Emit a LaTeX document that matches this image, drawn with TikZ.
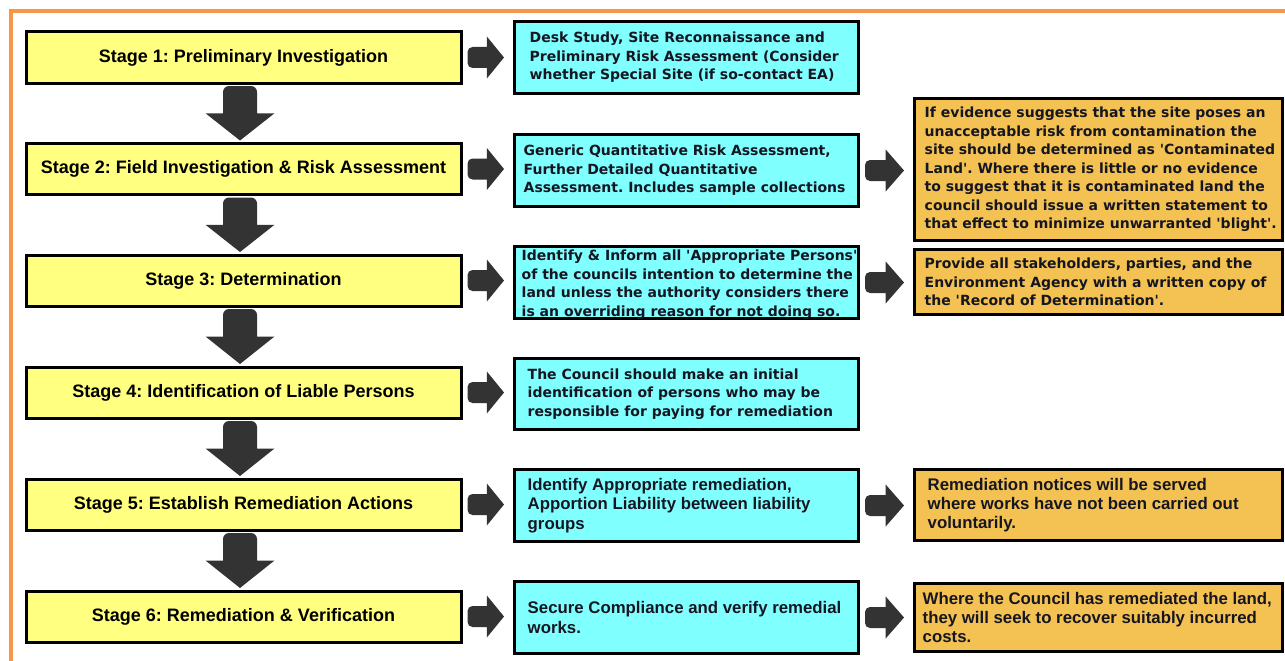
\documentclass[tikz,border=0pt]{standalone}
\usepackage{fontspec}
\setmainfont{Liberation Sans}
\newfontfamily\stagefont{Liberation Sans}[Ligatures=TeXOff]
\newfontfamily\wideface{DejaVu Sans}[Ligatures=TeXOff]
\usetikzlibrary{calc}
\frenchspacing

\definecolor{frameorange}{HTML}{F79646}
\definecolor{stageyellow}{HTML}{FFFF80}
\definecolor{notecyan}{HTML}{80FFFF}
\definecolor{notegold}{HTML}{F3C252}
\definecolor{arrowgrey}{HTML}{333333}
\definecolor{inkblue}{HTML}{161622}

% block arrow pointing down, from the bottom of one stage to the top of the next
\newcommand\dropbetween[2]{%
  \fill[arrowgrey] let \p1=($(#1.south)+(-3.5,0)$), \p2=(#2.north), \n1={0.5*(\y1+\y2)} in
    [rounded corners=6pt] (\x1-17pt,\n1) -- (\x1-17pt,\y1-1.5pt) -- (\x1+17pt,\y1-1.5pt)
    [sharp corners] -- (\x1+17pt,\n1) -- (\x1+34.5pt,\n1) -- (\x1,\y2+1.5pt) -- (\x1-34.5pt,\n1) -- cycle;}

% block arrow pointing right, from one box to the box beside it
\newcommand\pushright[2]{%
  \fill[arrowgrey] let \p1=(#1.east), \p2=(#2.west), \n1={\x1+5pt}, \n2={\x2-9pt},
      \n3={\x1+5pt+0.53*(\x2-\x1-14pt)} in
    [rounded corners=5pt] (\n3,\y1+10.5pt) -- (\n1,\y1+10.5pt) -- (\n1,\y1-10.5pt)
    [sharp corners] -- (\n3,\y1-10.5pt) -- (\n3,\y1-21pt) -- (\n2,\y1) -- (\n3,\y1+21pt) -- cycle;}

\begin{document}
\begin{tikzpicture}[x=1pt,y=-1pt,
  stagebox/.style={draw=black, line width=3pt, fill=stageyellow, minimum width=435pt,
    minimum height=51pt, inner sep=0pt, text=black,
    font=\stagefont\bfseries\fontsize{18}{21}\selectfont},
  cyanbox/.style={draw=black, line width=3pt, fill=notecyan, minimum width=344pt,
    minimum height=72pt, inner sep=0pt},
  goldbox/.style={draw=black, line width=3pt, fill=notegold, minimum width=368pt,
    inner sep=0pt},
  widetext/.style={anchor=west, inner sep=0pt, align=left, text=inkblue,
    font=\wideface\bfseries\fontsize{14}{18.5}\selectfont},
  plaintext/.style={anchor=west, inner sep=0pt, align=left, text=inkblue,
    font=\stagefont\bfseries\fontsize{16.8}{19.3}\selectfont}]

\useasboundingbox (0,0) rectangle (1285,661);
\clip (0,0) rectangle (1285,661);
\fill[white] (0,0) rectangle (1285,661);

% orange frame, open towards the right and the bottom
\draw[frameorange, line width=4.5pt] (1300,11) -- (11,11) -- (11,680);

% stages
\node[stagebox] (s1) at (243.5,57.5) {Stage 1: Preliminary Investigation};
\node[stagebox] (s2) at (243.5,169) {Stage 2: Field Investigation \& Risk Assessment};
\node[stagebox] (s3) at (243.5,280.5) {Stage 3: Determination};
\node[stagebox] (s4) at (243.5,392.5) {Stage 4: Identification of Liable Persons};
\node[stagebox] (s5) at (243.5,504.5) {Stage 5: Establish Remediation Actions};
\node[stagebox] (s6) at (243.5,616.5) {Stage 6: Remediation \& Verification};

% actions
\node[cyanbox] (c1) at (686.5,57.5) {};
\node[widetext] (c1t) at ($(c1.west)+(16.5,0)$)
  {Desk Study, Site Reconnaissance and\\Preliminary Risk Assessment (Consider\\whether Special Site (if so-contact EA)};
\node[cyanbox] (c2) at (686.5,170.5) {};
\node[widetext] (c2t) at ($(c2.west)+(10.5,0)$)
  {Generic Quantitative Risk Assessment,\\Further Detailed Quantitative\\Assessment. Includes sample collections};
\node[cyanbox] (c3) at (686.5,282.5) {};
\node[widetext] (c3t) at ($(c3.west)+(8.5,2)$)
  {Identify \& Inform all 'Appropriate Persons'\\of the councils intention to determine the\\land unless the authority considers there\\is an overriding reason for not doing so.};
\node[cyanbox, minimum height=71pt] (c4) at (686.5,394) {};
\node[widetext] (c4t) at ($(c4.west)+(14.5,0)$)
  {The Council should make an initial\\identification of persons who may be\\responsible for paying for remediation};
\node[cyanbox] (c5) at (686.5,505.5) {};
\node[plaintext] (c5t) at ($(c5.west)+(14.5,0)$)
  {Identify Appropriate remediation,\\Apportion Liability between liability\\groups};
\node[cyanbox] (c6) at (686.5,617.5) {};
\node[plaintext] (c6t) at ($(c6.west)+(14.5,0)$)
  {Secure Compliance and verify remedial\\works.};

% outcomes
\node[goldbox, minimum height=142pt] (g2) at (1098.5,169.5) {};
\node[widetext] (g2t) at ($(g2.west)+(11.5,0)$)
  {If evidence suggests that the site poses an\\unacceptable risk from contamination the\\site should be determined as 'Contaminated\\Land'. Where there is little or no evidence\\to suggest that it is contaminated land the\\council should issue a written statement to\\that effect to minimize unwarranted 'blight'.};
\node[goldbox, minimum height=65pt] (g3) at (1098.5,282) {};
\node[widetext] (g3t) at ($(g3.west)+(11.5,0)$)
  {Provide all stakeholders, parties, and the\\Environment Agency with a written copy of\\the 'Record of Determination'.};
\node[goldbox, minimum height=71pt] (g5) at (1098.5,505) {};
\node[plaintext] (g5t) at ($(g5.west)+(14.5,0)$)
  {Remediation notices will be served\\where works have not been carried out\\voluntarily.};
\node[goldbox, minimum height=68pt] (g6) at (1098.5,617.5) {};
\node[plaintext] (g6t) at ($(g6.west)+(9.5,0)$)
  {Where the Council has remediated the land,\\they will seek to recover suitably incurred\\costs.};

% flow between stages
\dropbetween{s1}{s2}
\dropbetween{s2}{s3}
\dropbetween{s3}{s4}
\dropbetween{s4}{s5}
\dropbetween{s5}{s6}

% flow across each row
\pushright{s1}{c1}
\pushright{s2}{c2}
\pushright{s3}{c3}
\pushright{s4}{c4}
\pushright{s5}{c5}
\pushright{s6}{c6}
\pushright{c2}{g2}
\pushright{c3}{g3}
\pushright{c5}{g5}
\pushright{c6}{g6}
\end{tikzpicture}
\end{document}
